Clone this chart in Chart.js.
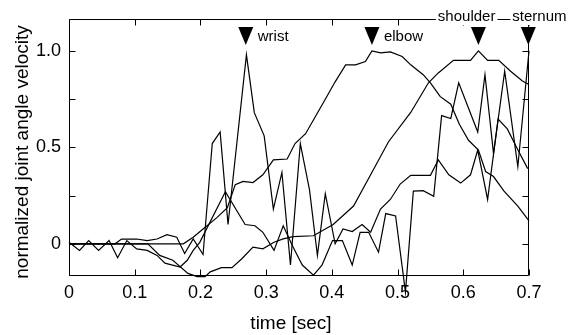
<!DOCTYPE html>
<html>
<head>
<meta charset="utf-8">
<script src="https://cdn.jsdelivr.net/npm/chart.js@4.4.0/dist/chart.umd.min.js"></script>
<style>
  html, body { margin: 0; padding: 0; background: #fff; }
</style>
</head>
<body>
<canvas id="myChart" width="570" height="335"></canvas>
<script>
// time [sec] and normalized velocity
const wristT = [0, 0.07, 0.08, 0.103, 0.119, 0.134, 0.149, 0.164, 0.176, 0.189, 0.204, 0.218, 0.230, 0.242, 0.270, 0.282, 0.297, 0.311, 0.324, 0.337, 0.352, 0.366, 0.378, 0.390, 0.405, 0.417, 0.431, 0.446, 0.459, 0.474, 0.489, 0.504, 0.520, 0.535, 0.550, 0.562, 0.578, 0.596, 0.611, 0.622, 0.637, 0.653, 0.667, 0.682, 0.698];
const wristV = [0, 0, 0.025, 0.025, 0.017, 0.025, 0.048, 0.034, -0.05, 0.026, -0.055, 0.52, 0.58, 0.10, 0.98, 0.68, 0.56, 0.18, 0.37, -0.11, 0.52, 0.28, -0.06, 0.26, 0.0, 0.077, 0.064, 0.10, 0.06, 0.18, 0.23, 0.31, 0.355, 0.355, 0.355, 0.435, 0.358, 0.315, 0.358, 0.486, 0.23, 0.647, 0.596, 0.494, 0.39];

const elbowT = [0, 0.174, 0.189, 0.204, 0.225, 0.241, 0.253, 0.265, 0.280, 0.295, 0.311, 0.332, 0.344, 0.360, 0.375, 0.390, 0.405, 0.421, 0.436, 0.451, 0.461, 0.474, 0.489, 0.507, 0.520, 0.539, 0.550, 0.565, 0.581, 0.594, 0.608, 0.623, 0.634, 0.646, 0.662, 0.683, 0.700];
const elbowV = [0, 0, 0.034, 0.077, 0.136, 0.187, 0.307, 0.324, 0.318, 0.358, 0.435, 0.44, 0.52, 0.571, 0.66, 0.75, 0.84, 0.928, 0.928, 0.945, 1.0, 0.99, 0.995, 0.971, 0.928, 0.877, 0.835, 0.763, 0.724, 0.62, 0.537, 0.486, 0.375, 0.349, 0.273, 0.196, 0.119];

const shoulderT = [0, 0.12, 0.138, 0.158, 0.181, 0.195, 0.207, 0.215, 0.232, 0.248, 0.263, 0.280, 0.295, 0.312, 0.326, 0.341, 0.372, 0.402, 0.433, 0.459, 0.486, 0.520, 0.547, 0.562, 0.585, 0.611, 0.623, 0.637, 0.654, 0.672, 0.690, 0.700];
const shoulderV = [0, 0, -0.06, -0.085, -0.153, -0.17, -0.17, -0.145, -0.123, -0.123, -0.077, -0.017, -0.026, 0.008, 0.026, 0.037, 0.042, 0.10, 0.196, 0.358, 0.528, 0.681, 0.835, 0.886, 0.951, 0.951, 1.0, 0.951, 0.951, 0.895, 0.844, 0.826];

const sternumT = [0, 0.016, 0.030, 0.045, 0.061, 0.074, 0.088, 0.103, 0.119, 0.134, 0.146, 0.169, 0.180, 0.189, 0.199, 0.238, 0.268, 0.283, 0.295, 0.312, 0.326, 0.340, 0.355, 0.372, 0.385, 0.401, 0.416, 0.431, 0.443, 0.456, 0.471, 0.482, 0.497, 0.512, 0.524, 0.539, 0.555, 0.567, 0.581, 0.593, 0.622, 0.633, 0.646, 0.663, 0.683, 0.700];
const sternumV = [0.008, -0.034, 0.017, -0.034, 0.017, -0.072, 0.017, -0.026, -0.034, -0.06, -0.10, -0.12, -0.085, -0.034, 0.008, 0.27, 0.10, 0.094, 0.06, -0.034, 0.094, -0.01, -0.11, -0.162, -0.11, 0.017, 0.017, -0.11, 0.06, 0.06, -0.043, 0.157, 0.145, -0.25, 0.273, 0.276, 0.247, 0.665, 0.65, 0.835, 0.58, 0.877, 0.468, 0.895, 0.40, 1.0];

const xTicks = [0, 0.1, 0.2, 0.3, 0.4, 0.5, 0.6, 0.7];
const yTicks = [0, 0.25, 0.5, 0.75, 1.0];
const yLabelled = [0, 0.5, 1.0];

// peak markers on top of the plot
const markerNames = ['wrist', 'elbow', 'shoulder', 'sternum'];
const markerT = [0.269, 0.461, 0.623, 0.699];

const FONT = '"Liberation Sans", Arial, Helvetica, sans-serif';

function toPoints(ts, vs) {
  return ts.map((t, i) => ({ x: t, y: vs[i] }));
}

function lineSet(label, ts, vs) {
  return {
    label: label,
    data: toPoints(ts, vs),
    borderColor: '#000',
    borderWidth: 1.2,
    pointRadius: 0,
    tension: 0,
    clip: false,
  };
}

const framePlugin = {
  id: 'frame',
  afterDatasetsDraw(chart) {
    const { ctx, chartArea: a, scales: { x, y } } = chart;
    ctx.save();
    ctx.strokeStyle = '#000';
    ctx.lineWidth = 1;

    const L = Math.round(a.left) + 0.5, R = Math.round(a.right) - 0.5;
    const T = Math.round(a.top) + 0.5, B = Math.round(a.bottom) - 0.5;
    ctx.beginPath();
    ctx.rect(L, T, R - L, B - T);
    // inward ticks on all sides
    xTicks.forEach(v => {
      const px = Math.round(x.getPixelForValue(v)) + 0.5;
      ctx.moveTo(px, B); ctx.lineTo(px, B - 6);
      ctx.moveTo(px, T); ctx.lineTo(px, T + 6);
    });
    yTicks.forEach(v => {
      const py = Math.round(y.getPixelForValue(v)) + 0.5;
      ctx.moveTo(L, py); ctx.lineTo(L + 6, py);
      ctx.moveTo(R, py); ctx.lineTo(R - 6, py);
    });
    ctx.stroke();

    // axis titles
    ctx.fillStyle = '#000';
    ctx.font = '19px ' + FONT;
    ctx.textAlign = 'center';
    ctx.textBaseline = 'middle';
    ctx.fillText('time [sec]', 291, 324);
    ctx.save();
    ctx.translate(23, 152);
    ctx.rotate(-Math.PI / 2);
    ctx.fillText('normalized joint angle velocity', 0, 0);
    ctx.restore();

    // peak markers
    ctx.font = '15px ' + FONT;
    ctx.textBaseline = 'alphabetic';
    markerNames.forEach((name, i) => {
      const cx = x.getPixelForValue(markerT[i]);
      ctx.beginPath();
      ctx.moveTo(cx - 7.5, 27);
      ctx.lineTo(cx + 7.5, 27);
      ctx.lineTo(cx, 45);
      ctx.closePath();
      ctx.fill();

      ctx.textAlign = 'left';
      if (i < 2) {
        ctx.fillText(name, cx + 12, 41);
      } else {
        const w = ctx.measureText(name).width;
        const left = i === 2 ? cx + 17 - w : cx - 16;
        ctx.fillStyle = '#fff';
        ctx.fillRect(left - 2, 8, w + 4, 17);
        ctx.fillStyle = '#000';
        ctx.fillText(name, left, 21);
      }
    });
    ctx.restore();
  }
};

const ctx = document.getElementById('myChart').getContext('2d');
const myChart = new Chart(ctx, {
  type: 'line',
  data: {
    datasets: [
      lineSet('wrist', wristT, wristV),
      lineSet('elbow', elbowT, elbowV),
      lineSet('shoulder', shoulderT, shoulderV),
      lineSet('sternum', sternumT, sternumV),
    ]
  },
  options: {
    responsive: false,
    animation: false,
    layout: { padding: { left: 0, right: 41, top: 15, bottom: 0 } },
    plugins: { legend: { display: false }, tooltip: { enabled: false } },
    scales: {
      x: {
        type: 'linear',
        min: 0,
        max: 0.7,
        afterBuildTicks: s => { s.ticks = xTicks.map(v => ({ value: v })); },
        afterFit: s => { s.height = 59; },
        grid: { display: false, drawTicks: false },
        border: { display: false },
        ticks: {
          padding: 6,
          color: '#000',
          font: { family: FONT, size: 18 },
          maxRotation: 0,
          autoSkip: false,
          callback: v => (v === 0 ? '0' : v.toFixed(1)),
        },
      },
      y: {
        type: 'linear',
        min: -1 / 6,
        max: 7 / 6,
        afterBuildTicks: s => { s.ticks = yTicks.map(v => ({ value: v })); },
        afterFit: s => { s.width = 69; },
        grid: { display: false, drawTicks: false },
        border: { display: false },
        ticks: {
          padding: 8,
          color: '#000',
          font: { family: FONT, size: 18 },
          autoSkip: false,
          callback: v => {
            if (!yLabelled.includes(v)) return '';
            return v === 0 ? '0' : v.toFixed(1);
          },
        },
      },
    },
  },
  plugins: [framePlugin],
});
</script>
</body>
</html>
